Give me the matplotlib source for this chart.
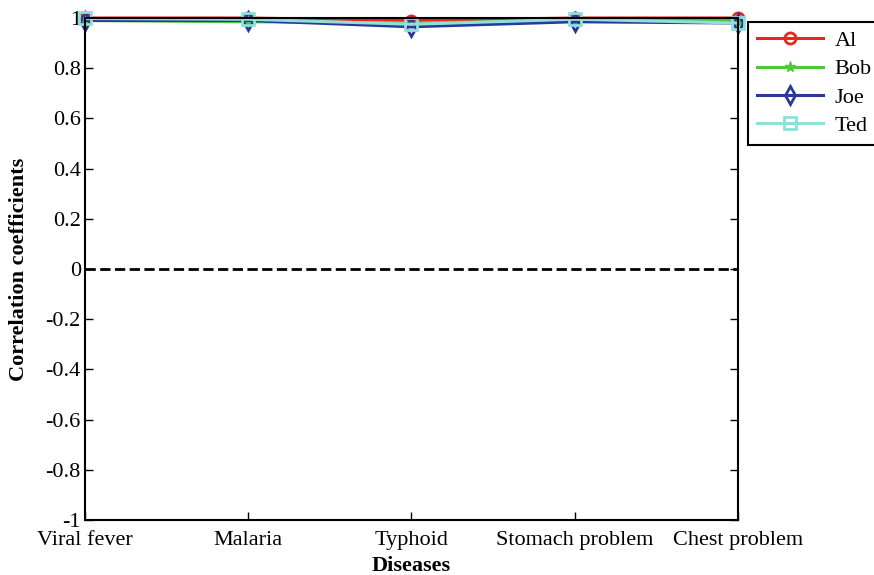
import matplotlib.pyplot as plt

diseases = ['Viral fever', 'Malaria', 'Typhoid', 'Stomach problem', 'Chest problem']
al = [1.0, 1.0, 0.99, 1.0, 1.0]
bob = [0.99, 0.985, 0.98, 0.99, 0.99]
joe = [0.99, 0.99, 0.965, 0.985, 0.98]
ted = [0.998, 0.995, 0.975, 0.995, 0.98]
yticks = [-1, -0.8, -0.6, -0.4, -0.2, 0, 0.2, 0.4, 0.6, 0.8, 1]
ytick_labels = ['-1', '-0.8', '-0.6', '-0.4', '-0.2', '0', '0.2', '0.4', '0.6', '0.8', '1']

plt.rcParams['font.family'] = ['Liberation Serif', 'DejaVu Serif']
plt.rcParams['font.size'] = 16

fig = plt.figure(figsize=(8.74, 5.75), dpi=100)
ax = fig.add_axes([0.0973, 0.0957, 0.747, 0.873])

x = list(range(1, len(diseases) + 1))
ax.plot(x, [0] * len(x), 'k--', lw=2, zorder=1)
ax.plot(x, al, color='#e8261c', marker='o', ms=8, mfc='none', mew=2, lw=2.2,
        label='Al', clip_on=False)
ax.plot(x, bob, color='#4fc83c', marker='*', ms=8, lw=2.2, label='Bob', clip_on=False)
ax.plot(x, joe, color='#27399a', marker='d', ms=9, mfc='none', mew=2, lw=2.2,
        label='Joe', clip_on=False)
ax.plot(x, ted, color='#8fe0da', marker='s', ms=8, mfc='none', mew=2, lw=2.2,
        label='Ted', clip_on=False)

ax.set_xlim(1, 5)
ax.set_ylim(-1, 1)
ax.set_xticks(x)
ax.set_xticklabels(diseases)
ax.set_yticks(yticks)
ax.set_yticklabels(ytick_labels)
ax.tick_params(direction='in', top=True, right=True, length=6, width=1)
ax.tick_params(axis='x', pad=8)
ax.tick_params(axis='y', pad=3)
for sp in ax.spines.values():
    sp.set_linewidth(1.5)
ax.set_xlabel('Diseases', fontweight='bold', labelpad=4)
ax.set_ylabel('Correlation coefficients', fontweight='bold', labelpad=12)

leg = ax.legend(loc='upper left', bbox_to_anchor=(1.015, 0.993), fancybox=False,
                edgecolor='black', framealpha=1, borderaxespad=0, handlelength=3.0,
                borderpad=0.4, labelspacing=0.35, handletextpad=0.5)
leg.get_frame().set_linewidth(1.5)

fig.savefig('out.png', dpi=100)
